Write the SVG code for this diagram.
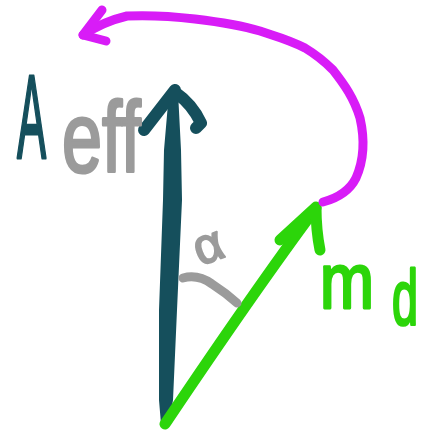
<svg xmlns="http://www.w3.org/2000/svg" width="421" height="430" viewBox="0 0 421 430">
<style>
.teal{stroke:#154f5c;fill:none;stroke-linecap:round;stroke-linejoin:round}
.green{stroke:#2cd50a;fill:none;stroke-linecap:round;stroke-linejoin:round}
.mag{stroke:#d81cf7;fill:none;stroke-linecap:round;stroke-linejoin:round}
.grey{stroke:#9b9b9b;fill:none;stroke-linecap:round;stroke-linejoin:round}
.lbl{font-family:"Liberation Sans","DejaVu Sans",sans-serif;stroke-linejoin:round;stroke-linecap:round}
</style>
<rect width="421" height="430" fill="#ffffff"/>
<g id="connectors">
<g id="vector-Aeff">
<path d="M169,92 L164,150 L163,200 L159,310 L159,400 L161,424 Q165,429 169,424 L173,400 L177,310 L182,200 L181,150 L178,92 Z" fill="#154f5c"/>
<path class="teal" stroke-width="12" d="M144,130 L175,90 M176,93 Q192,104 201,123 L196,128"/>
</g>
<g id="vector-md">
<path class="green" stroke-width="11" d="M165,424 C200,372 255,290 316,208"/>
<path class="green" stroke-width="11" d="M280,240 L316,207 Q316,230 320,250"/>
</g>
<g id="rotation-arrow">
<path class="mag" stroke-width="9" d="M323,202 C338,198 350,190 356,178 C364,160 365,140 360,118 C354,98 344,84 333,70 C323,60 315,54 305,48 C290,40 275,36 260,31 C240,25 220,22 195,19 C170,16 150,15 127,16 C110,20 95,27 83,35"/>
<path class="mag" stroke-width="9" d="M102,10 L83,35 L106,41"/>
</g>
<g id="angle-arc">
<path class="grey" stroke-width="9" d="M183,278 Q198,274 212,284 Q226,293 237,303"/>
</g>
</g>
<g id="label-Aeff">
<text class="lbl" x="0" y="0" font-size="118" fill="#154f5c" stroke="#154f5c" stroke-width="3" transform="translate(17,158) scale(0.37,1)">A</text>
<text class="lbl" x="0" y="0" font-size="96" fill="#9b9b9b" stroke="#9b9b9b" stroke-width="3" transform="translate(62,172) scale(0.75,1.05)">eff</text>
</g>
<g id="label-alpha">
<text class="lbl" x="0" y="0" font-size="50" fill="#9b9b9b" stroke="#9b9b9b" stroke-width="2" transform="translate(200,266) rotate(-20)">α</text>
</g>
<g id="label-md">
<text class="lbl" x="0" y="0" font-size="78" fill="#2cd50a" stroke="#2cd50a" stroke-width="3" transform="translate(320,308) scale(0.83,1)">m</text>
<text class="lbl" x="0" y="0" font-size="78" fill="#2cd50a" stroke="#2cd50a" stroke-width="3" transform="translate(392,325) scale(0.6,1)">d</text>
</g>
</svg>
